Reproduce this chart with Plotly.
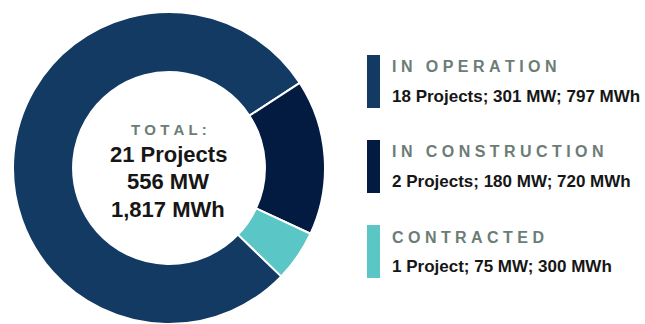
import plotly.graph_objects as go

W, H = 645, 324

# ---- data ----
categories = ["IN OPERATION", "IN CONSTRUCTION", "CONTRACTED"]
projects = [18, 2, 1]
mw = [301, 180, 75]
mwh = [797, 720, 300]
# slice shares (percent) as drawn in the reference donut
slice_share = [78.6, 16.1, 5.3]
total_projects = 21
total_mw = 556
total_mwh = 1817

colors = ["#123a63", "#031b40", "#5ac6c6"]
label_color = "#6c7c76"
text_color = "#161616"


def spaced(s):
    # letter-spaced text using non-breaking spaces
    out = []
    for word in s.split(" "):
        out.append("\u00a0".join(list(word)))
    return "\u00a0\u00a0\u00a0".join(out)


def detail(p, m, e):
    pword = "Project" if p == 1 else "Projects"
    return f"{p} {pword}; {m:,} MW; {e:,} MWh"


fig = go.Figure()

cx, cy, R = 169, 168, 156
fig.add_trace(go.Pie(
    labels=categories,
    values=slice_share,
    hole=0.615,
    sort=False,
    direction="clockwise",
    rotation=134,
    marker=dict(colors=colors, line=dict(color="white", width=2)),
    textinfo="none",
    hoverinfo="label",
    showlegend=False,
    domain=dict(x=[(cx - R) / W, (cx + R) / W], y=[0, (2 * R) / H]),
))


def px(x):
    return x / W


def py(y):
    return 1 - y / H


ann = []
# center text
ann.append(dict(text="<b>" + spaced("TOTAL:") + "</b>", x=px(cx), y=py(129), xanchor="center", yanchor="middle",
                font=dict(family="Liberation Sans, Arial", size=15, color=label_color)))
center_lines = [f"{total_projects} Projects", f"{total_mw} MW", f"{total_mwh:,} MWh"]
for i, t in enumerate(center_lines):
    ann.append(dict(text=f"<b>{t}</b>", x=px(cx - 1), y=py(154 + 27.5 * i), xanchor="center", yanchor="middle",
                    font=dict(family="Liberation Sans, Arial", size=22, color=text_color)))

shapes = []
label_y = [66, 151, 237.5]
detail_y = [96, 181, 266]
bar_y = [(55, 108), (140, 193), (225, 278)]
for i, cat in enumerate(categories):
    shapes.append(dict(type="rect", xref="paper", yref="paper",
                       x0=px(367), x1=px(380), y0=py(bar_y[i][1]), y1=py(bar_y[i][0]),
                       fillcolor=colors[i], line=dict(width=0)))
    ann.append(dict(text="<b>" + spaced(cat) + "</b>", x=px(390), y=py(label_y[i]), xanchor="left", yanchor="middle",
                    font=dict(family="Liberation Sans, Arial", size=16, color=label_color)))
    ann.append(dict(text="<b>" + detail(projects[i], mw[i], mwh[i]) + "</b>", x=px(390), y=py(detail_y[i]),
                    xanchor="left", yanchor="middle",
                    font=dict(family="Liberation Sans, Arial", size=17, color=text_color)))

for a in ann:
    a.update(xref="paper", yref="paper", showarrow=False)

fig.update_layout(
    width=W, height=H,
    margin=dict(l=0, r=0, t=0, b=0),
    paper_bgcolor="white", plot_bgcolor="white",
    annotations=ann, shapes=shapes,
)

fig.write_html("out.html")
